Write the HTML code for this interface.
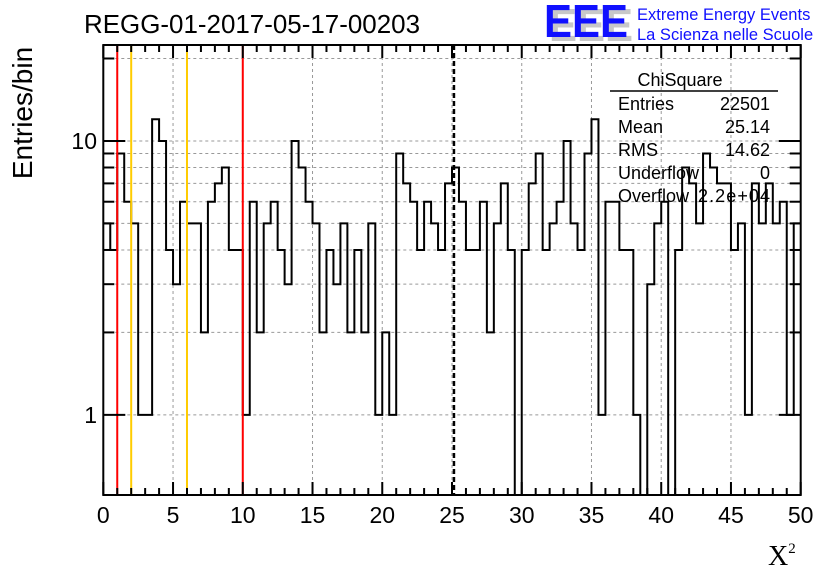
<!DOCTYPE html>
<html><head><meta charset="utf-8"><style>
html,body{margin:0;padding:0;background:#fff;}
svg{display:block;font-family:"Liberation Sans",sans-serif;}
</style></head><body>
<svg id="chart" width="836" height="572" viewBox="0 0 836 572" xmlns="http://www.w3.org/2000/svg">
<rect width="836" height="572" fill="#fff"/>
<text x="84" y="33" font-size="26" textLength="336" lengthAdjust="spacingAndGlyphs">REGG-01-2017-05-17-00203</text>
<g>
<text x="549" y="41" font-size="46" font-weight="bold" fill="#c8c8c8" textLength="84" lengthAdjust="spacingAndGlyphs">EEE</text>
<text x="544" y="37" font-size="46" font-weight="bold" fill="#1010ff" textLength="84" lengthAdjust="spacingAndGlyphs">EEE</text>
<text x="637" y="20" font-size="16.5" fill="#1010ff">Extreme Energy Events</text>
<text x="637" y="40" font-size="16.5" fill="#1010ff">La Scienza nelle Scuole</text>
</g>
<text transform="translate(32,113) rotate(-90)" font-size="28" text-anchor="middle">Entries/bin</text>
<text x="768" y="565" font-size="28" font-family="Liberation Serif,serif">X<tspan font-size="15" dy="-12">2</tspan></text>
<g id="grid"></g>
<g id="marks"></g>
<g id="axes"></g>
<g font-size="18">
<text x="680" y="86" text-anchor="middle">ChiSquare</text>
<line x1="610" y1="91" x2="778" y2="91" stroke="#000" stroke-width="1.5"/>
<text x="618" y="110">Entries</text><text x="770" y="110" text-anchor="end">22501</text>
<text x="618" y="133">Mean</text><text x="770" y="133" text-anchor="end">25.14</text>
<text x="618" y="156">RMS</text><text x="770" y="156" text-anchor="end">14.62</text>
<text x="618" y="179">Underflow</text><text x="770" y="179" text-anchor="end">0</text>
<text x="618" y="202">Overflow</text><text x="770" y="202" text-anchor="end" textLength="72">2.2e+04</text>
</g>
</svg>
<script>
const counts = [5,4,9,6,5,1,1,12,10,4,3,6,5,5,2,6,7,8,4,4,1,6,2,5,6,4,3,10,8,6,5,2,4,3,5,2,4,2,5,1,2,1,9,7,6,4,6,5,4,7,8,6,4,4,6,2,5,7,4,0,4,7,9,4,5,6,10,5,4,9,12,1,6,6,4,4,1,0,3,5,6,0,4,8,7,5,9,8,7,7,4,5,1,7,5,7,5,6,1,5];
const binWidth = [0.5];
const xTickLabels = [0,5,10,15,20,25,30,35,40,45,50];
const yTickLabels = [1,10];
const yGridValues = [1,2,3,4,5,6,7,8,9,10,20];
const redCuts = [1,10];
const yellowCuts = [2,6];
const meanValue = [25.14];

const NS="http://www.w3.org/2000/svg";
const L=103.3,R=800.7,T=45,B=495;
const xMin=0,xMax=50,yMin=0.51,yMax=22.4;
function X(v){return L+(v-xMin)/(xMax-xMin)*(R-L);}
function Y(v){if(v<=yMin)return B;return B-(Math.log10(v)-Math.log10(yMin))/(Math.log10(yMax)-Math.log10(yMin))*(B-T);}
function mk(tag,attrs,parent){const e=document.createElementNS(NS,tag);for(const k in attrs)e.setAttribute(k,attrs[k]);parent.appendChild(e);return e;}
const grid=document.getElementById('grid'),marks=document.getElementById('marks'),axes=document.getElementById('axes');

yGridValues.forEach(v=>{
  const g=mk('line',{x1:L,x2:R,y1:Y(v),y2:Y(v),stroke:'#999','stroke-width':1,'stroke-dasharray':'3,3'},grid);
  
  
});
xTickLabels.forEach(v=>{
  if(v===xMin||v===xMax)return;
  const g=mk('line',{x1:X(v),x2:X(v),y1:T,y2:B,stroke:'#999','stroke-width':1,'stroke-dasharray':'3,3'},grid);
  
  
});

const w=binWidth[0];
let d='';
counts.forEach((c,i)=>{
  const x0=X(i*w),x1=X((i+1)*w),y=Y(c);
  d+=(i===0?'M':'L')+x0.toFixed(2)+','+y.toFixed(2)+'L'+x1.toFixed(2)+','+y.toFixed(2);
});
const hist=mk('path',{d:d,fill:'none',stroke:'#000','stroke-width':2},marks);



redCuts.forEach(v=>{
  const l=mk('line',{x1:X(v),x2:X(v),y1:T,y2:B,stroke:'#ff0000','stroke-width':2},marks);
  
  
});
yellowCuts.forEach(v=>{
  const l=mk('line',{x1:X(v),x2:X(v),y1:T,y2:B,stroke:'#ffcc00','stroke-width':2},marks);
  
  
});
const ml=mk('line',{x1:X(meanValue[0]),x2:X(meanValue[0]),y1:T,y2:B,stroke:'#000','stroke-width':2.5,'stroke-dasharray':'5,3'},marks);



const fr=mk('rect',{x:L,y:T,width:R-L,height:B-T,fill:'none',stroke:'#000','stroke-width':2},axes);



for(let v=xMin;v<=xMax;v+=1){
  const major=(v%5===0),len=major?13:7;
  mk('line',{x1:X(v),x2:X(v),y1:B,y2:B-len,stroke:'#000','stroke-width':2},axes);
  mk('line',{x1:X(v),x2:X(v),y1:T,y2:T+len,stroke:'#000','stroke-width':2},axes);
}
xTickLabels.forEach(v=>{
  const t=mk('text',{x:X(v),y:523,'font-size':23,'text-anchor':'middle'},axes);
  t.textContent=v;
  
  
});
yGridValues.forEach(v=>{
  const major=yTickLabels.indexOf(v)>=0,len=major?22:11;
  mk('line',{x1:L,x2:L+len,y1:Y(v),y2:Y(v),stroke:'#000','stroke-width':2},axes);
  mk('line',{x1:R,x2:R-len,y1:Y(v),y2:Y(v),stroke:'#000','stroke-width':2},axes);
});
yTickLabels.forEach(v=>{
  const t=mk('text',{x:97,y:Y(v)+8,'font-size':23,'text-anchor':'end'},axes);
  t.textContent=v;
  
  
});
</script>
</body></html>
